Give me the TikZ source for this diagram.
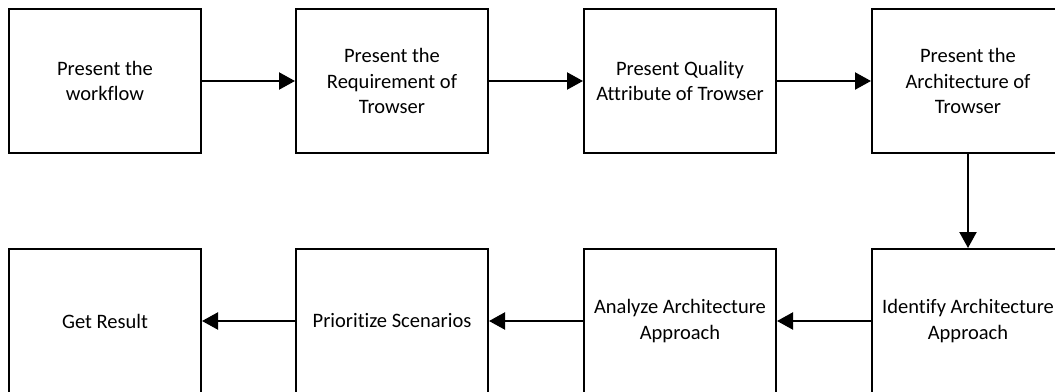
\documentclass[tikz,border=0pt]{standalone}
\usepackage{fontspec}
\setmainfont{Carlito}[Ligatures=NoCommon]
\usetikzlibrary{arrows.meta}
\begin{document}
\begin{tikzpicture}[x=1pt,y=-1pt,
  stepbox/.style={draw=black, line width=2pt, minimum width=192pt, minimum height=144pt,
    inner sep=0pt, align=center, font=\fontsize{20.5}{25.5}\selectfont},
  flow/.style={line width=2.2pt, -{Triangle[length=16pt,width=17pt]}}]
\useasboundingbox (0,0) rectangle (1055,391);
\clip (0,0) rectangle (1055,391);
% top row
\node[stepbox] (a) at (105,81) {Present the\\workflow};
\node[stepbox] (b) at (392,81) {Present the\\Requirement of\\Trowser};
\node[stepbox] (c) at (680,81) {Present Quality\\Attribute of Trowser};
\node[stepbox] (d) at (968,81) {Present the\\Architecture of\\Trowser};
% bottom row
\node[stepbox] (e) at (968,321) {Identify Architecture\\Approach};
\node[stepbox] (f) at (680,321) {Analyze Architecture\\Approach};
\node[stepbox] (g) at (392,321) {Prioritize Scenarios};
\node[stepbox] (h) at (105,321) {Get Result};
% connectors
\draw[flow] (a) -- (b);
\draw[flow] (b) -- (c);
\draw[flow] (c) -- (d);
\draw[flow] (d) -- (e);
\draw[flow] (e) -- (f);
\draw[flow] (f) -- (g);
\draw[flow] (g) -- (h);
\end{tikzpicture}
\end{document}
